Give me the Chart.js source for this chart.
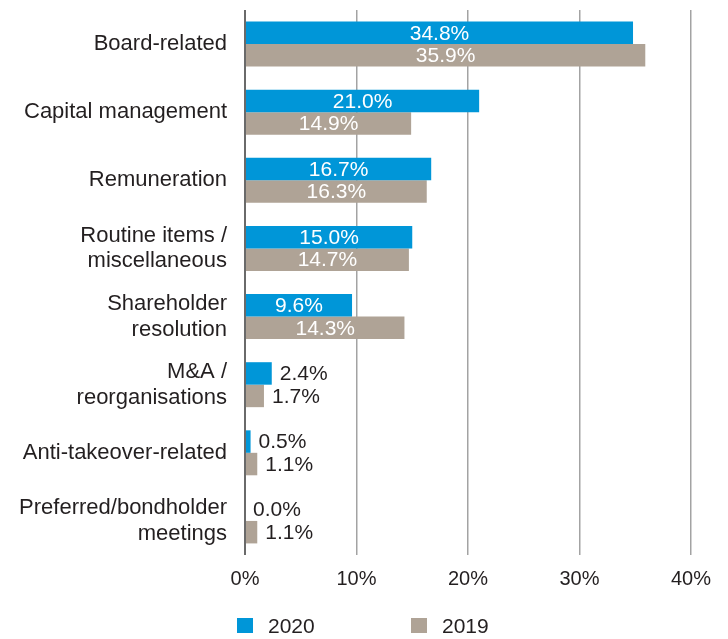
<!DOCTYPE html>
<html>
<head>
<meta charset="utf-8">
<script src="https://cdn.jsdelivr.net/npm/chart.js@4/dist/chart.umd.min.js"></script>
<style>
  html, body { margin: 0; padding: 0; background: #ffffff; }
  #wrap { width: 728px; height: 639px; }
</style>
</head>
<body>
<div id="wrap"><canvas id="c" width="728" height="639"></canvas></div>
<script>
const categories = [
  'Board-related',
  'Capital management',
  'Remuneration',
  ['Routine items /', 'miscellaneous'],
  ['Shareholder', 'resolution'],
  ['M&A /', 'reorganisations'],
  'Anti-takeover-related',
  ['Preferred/bondholder', 'meetings']
];
const seriesNames = ['2020', '2019'];
const values2020 = [34.8, 21.0, 16.7, 15.0, 9.6, 2.4, 0.5, 0.0];
const values2019 = [35.9, 14.9, 16.3, 14.7, 14.3, 1.7, 1.1, 1.1];
const xTicks = [0, 10, 20, 30, 40];

const BLUE = '#0096d8';
const TAUPE = '#afa396';
const TEXT = '#231f20';
const FONT = "'Liberation Sans', Arial, Helvetica, sans-serif";

const valueLabels = {
  id: 'valueLabels',
  afterDatasetsDraw(chart) {
    const ctx = chart.ctx;
    ctx.save();
    ctx.font = '21px ' + FONT;
    ctx.textBaseline = 'middle';
    chart.data.datasets.forEach((ds, di) => {
      const meta = chart.getDatasetMeta(di);
      meta.data.forEach((bar, i) => {
        const v = ds.data[i];
        const txt = v.toFixed(1) + '%';
        if (v >= 5) {
          ctx.fillStyle = '#ffffff';
          ctx.textAlign = 'center';
          ctx.fillText(txt, (bar.base + bar.x) / 2, bar.y + 1);
        } else {
          ctx.fillStyle = TEXT;
          ctx.textAlign = 'left';
          ctx.fillText(txt, bar.x + 8, bar.y + 1);
        }
      });
    });
    ctx.restore();
  }
};

const bottomLegend = {
  id: 'bottomLegend',
  afterDraw(chart) {
    const ctx = chart.ctx;
    ctx.save();
    ctx.font = '21px ' + FONT;
    ctx.textBaseline = 'middle';
    ctx.textAlign = 'left';
    const startX = 237, step = 174, cy = 626;
    chart.data.datasets.forEach((ds, i) => {
      const x = startX + i * step;
      ctx.fillStyle = ds.backgroundColor;
      ctx.fillRect(x, cy - 8, 16, 15);
      ctx.fillStyle = TEXT;
      ctx.fillText(ds.label, x + 31, cy + 1);
    });
    ctx.restore();
  }
};

new Chart(document.getElementById('c'), {
  type: 'bar',
  data: {
    labels: categories,
    datasets: [
      { label: seriesNames[0], data: values2020, backgroundColor: BLUE, borderWidth: 0 },
      { label: seriesNames[1], data: values2019, backgroundColor: TAUPE, borderWidth: 0 }
    ]
  },
  options: {
    indexAxis: 'y',
    responsive: false,
    animation: false,
    devicePixelRatio: 1,
    layout: { padding: { top: 10, right: 37, bottom: 48, left: 0 } },
    datasets: { bar: { barPercentage: 1.0, categoryPercentage: 0.66 } },
    plugins: {
      legend: { display: false },
      tooltip: { enabled: false }
    },
    scales: {
      x: {
        min: 0, max: 40,
        afterBuildTicks(scale) { scale.ticks = xTicks.map(v => ({ value: v })); },
        afterFit(scale) { scale.paddingLeft = 0; scale.paddingRight = 0; scale.height = 36; },
        border: { display: false },
        grid: {
          drawTicks: false,
          color: ctx => (ctx.tick && ctx.tick.value === 0) ? '#6a6a6a' : '#a3a3a3',
          lineWidth: ctx => (ctx.tick && ctx.tick.value === 0) ? 2 : 1.5
        },
        ticks: {
          padding: 12,
          color: TEXT,
          font: { family: FONT, size: 20 },
          callback: v => v + '%'
        }
      },
      y: {
        afterFit(scale) { scale.width = 245; scale.paddingTop = 0; scale.paddingBottom = 0; },
        border: { display: false },
        grid: { display: false, drawTicks: false },
        ticks: {
          padding: 18,
          color: TEXT,
          font: { family: FONT, size: 22, lineHeight: 1.18 }
        }
      }
    }
  },
  plugins: [valueLabels, bottomLegend]
});
</script>
</body>
</html>
